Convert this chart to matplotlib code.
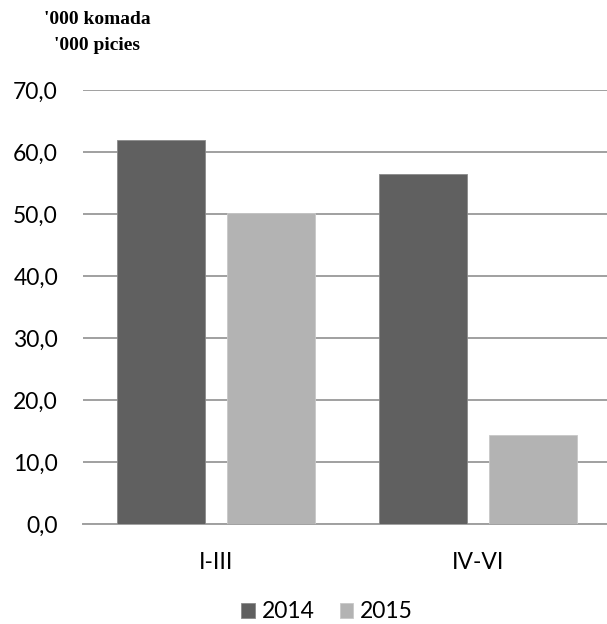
import matplotlib
matplotlib.use("Agg")
import matplotlib.pyplot as plt
import numpy as np

categories = ["I-III", "IV-VI"]
series_2014 = [61.9, 56.5]
series_2015 = [50.2, 14.3]
years = ["2014", "2015"]
yticks = [0, 10, 20, 30, 40, 50, 60, 70]

plt.rcParams['font.family'] = ['Lato', 'DejaVu Sans']

fig = plt.figure(figsize=(6.07, 6.24), dpi=100)
ax = fig.add_axes([83/607, 1 - 524/624, (607-83)/607, (524-90)/624])

x = np.arange(len(categories))
w = 0.336
off = 0.21
ax.bar(x - off, series_2014, w, color="#606060", edgecolor="#8a8a8a", linewidth=0.6, label=years[0], zorder=3)
ax.bar(x + off, series_2015, w, color="#b3b3b3", edgecolor="#c8c8c8", linewidth=0.6, label=years[1], zorder=3)

ax.set_xlim(-0.508, 1.492)
ax.set_ylim(0, 70)
ax.set_yticks(yticks)
ax.set_yticklabels([f"{v:.1f}".replace(".", ",") for v in yticks], fontsize=16.5)
ax.set_xticks(x)
ax.set_xticklabels(categories, fontsize=16.5)
ax.yaxis.grid(True, color="#a0a0a0", linewidth=1.4, zorder=0)
ax.set_axisbelow(True)
for s in ["top", "right", "left"]:
    ax.spines[s].set_visible(False)
ax.spines["bottom"].set_color("#a0a0a0")
ax.spines["bottom"].set_linewidth(1.4)
ax.tick_params(axis="y", length=0, pad=18)
ax.tick_params(axis="x", length=0, pad=20)

fig.text(97/607, 1 - 20/624, "'000 komada", ha="center", va="center",
         family="Liberation Serif", fontweight="bold", fontsize=14)
fig.text(97/607, 1 - 45/624, "'000 picies", ha="center", va="center",
         family="Liberation Serif", fontweight="bold", fontsize=14)

fig.legend(loc="center", bbox_to_anchor=(327/607, 1 - 612/624), ncol=2, frameon=False,
           fontsize=16.5, handlelength=0.6, handleheight=0.6, handletextpad=0.3,
           columnspacing=1.1, borderpad=0)

fig.savefig("out.png", dpi=100)
